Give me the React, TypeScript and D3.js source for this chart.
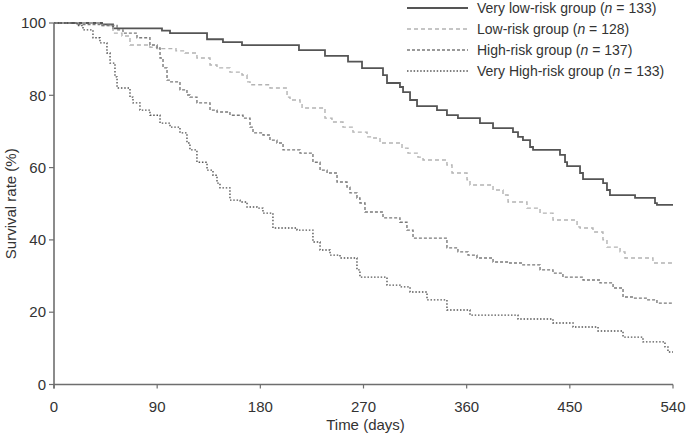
import React from "react";
import * as d3 from "d3";

const xTicks = [0, 90, 180, 270, 360, 450, 540];
const yTicks = [0, 20, 40, 60, 80, 100];

const veryLowDays = [0, 41.9, 51.5, 94.2, 101.2, 133.5, 147.4, 164.0, 213.7, 236.4, 256.5, 268.7, 287.0, 290.5, 301.8, 304.5, 310.6, 316.7, 334.1, 342.8, 352.4, 371.6, 383.0, 400.4, 404.8, 409.1, 415.3, 417.9, 441.4, 445.8, 447.6, 458.9, 461.5, 479.0, 482.4, 485.0, 506.9, 524.3, 526.0, 540];
const veryLowSurv = [100, 99.6, 98.5, 97.9, 97.2, 95.5, 94.7, 93.9, 92.5, 90.9, 89.3, 87.5, 85.6, 83.4, 82.3, 80.9, 78.7, 77.0, 75.9, 74.5, 73.7, 72.3, 70.9, 69.8, 68.5, 67.6, 65.7, 64.9, 63.5, 61.5, 60.4, 58.5, 56.8, 55.7, 53.8, 52.4, 51.6, 50.2, 49.7, 49.7];

const lowDays = [0, 41.9, 51.5, 59.3, 66.3, 83.7, 89.9, 106.4, 114.3, 124.7, 136.1, 142.2, 153.5, 164.0, 168.4, 171.0, 188.4, 203.3, 205.9, 214.6, 216.4, 236.4, 242.5, 252.1, 260.8, 273.1, 277.4, 284.4, 303.6, 308.8, 317.5, 321.9, 342.8, 347.2, 360.3, 362.9, 383.0, 391.7, 396.1, 412.6, 424.0, 435.3, 456.3, 458.9, 470.2, 478.9, 482.4, 493.8, 498.1, 522.5, 539.1, 540];
const lowSurv = [100, 99.3, 97.2, 96.4, 93.9, 93.3, 92.9, 92.3, 91.7, 90.3, 88.4, 87.6, 86.4, 85.6, 83.7, 82.9, 82.0, 79.5, 78.7, 78.1, 76.5, 73.7, 72.6, 71.2, 69.8, 68.5, 68.2, 66.8, 65.4, 64.0, 62.9, 62.1, 60.7, 58.5, 56.6, 55.2, 53.8, 52.4, 50.5, 48.8, 47.4, 45.5, 43.6, 43.3, 42.2, 40.0, 38.0, 36.7, 35.0, 33.6, 33.1, 33.1];

const highDays = [0, 20.1, 40.1, 55.0, 60.2, 72.4, 83.7, 89.9, 92.5, 95.1, 98.6, 101.2, 109.9, 116.0, 118.6, 124.7, 136.1, 142.2, 153.5, 164.9, 171.0, 173.6, 182.3, 188.4, 194.5, 199.8, 214.6, 225.9, 232.1, 238.2, 246.9, 255.6, 258.2, 264.3, 266.9, 271.3, 287.0, 301.8, 307.9, 313.2, 342.8, 352.4, 361.2, 369.0, 383.0, 396.1, 408.3, 424.0, 435.3, 444.0, 461.5, 476.3, 487.7, 496.4, 505.1, 517.3, 526.0, 540];
const highSurv = [100, 99.6, 99.3, 98.1, 97.2, 95.9, 93.9, 93.1, 90.3, 87.6, 84.2, 83.7, 81.5, 80.1, 79.5, 77.9, 75.9, 75.4, 74.5, 73.7, 71.2, 69.6, 69.0, 67.6, 66.8, 64.9, 64.0, 61.5, 59.3, 58.5, 56.0, 54.6, 53.0, 51.6, 50.2, 47.7, 46.1, 44.9, 42.7, 40.5, 37.8, 36.7, 35.8, 35.0, 33.9, 33.6, 33.1, 31.7, 30.8, 29.7, 28.9, 28.1, 26.7, 24.2, 23.9, 23.4, 22.5, 22.5];

const veryHighDays = [0, 20.1, 25.3, 34.0, 40.1, 46.2, 48.9, 53.2, 55.0, 66.3, 68.9, 75.0, 83.7, 92.5, 101.2, 109.9, 116.0, 118.6, 124.7, 133.5, 138.7, 142.2, 144.8, 153.5, 162.3, 168.4, 177.1, 182.3, 191.0, 212.0, 225.9, 232.1, 240.8, 249.5, 264.3, 266.9, 290.5, 301.8, 310.6, 325.4, 342.8, 362.9, 404.8, 435.3, 452.8, 474.6, 496.4, 513.8, 533.0, 535.6, 540];
const veryHighSurv = [100, 99.3, 98.1, 95.9, 94.5, 91.7, 88.9, 85.1, 82.0, 79.5, 77.9, 75.9, 74.5, 72.3, 71.2, 69.6, 66.8, 64.9, 61.5, 59.3, 57.9, 55.7, 54.4, 51.0, 50.5, 49.1, 48.8, 47.4, 43.3, 42.7, 39.4, 37.2, 35.8, 35.0, 31.7, 29.7, 27.5, 27.0, 25.6, 23.4, 20.6, 19.2, 18.1, 17.0, 15.9, 14.8, 13.1, 11.8, 10.4, 9.0, 9.0];

const seriesNames = ["Very low-risk group", "Low-risk group", "High-risk group", "Very High-risk group"];
const seriesN = [133, 128, 137, 133];

const series = [
  { days: veryLowDays, surv: veryLowSurv, color: "#555555", width: 1.8, dash: "none" },
  { days: lowDays, surv: lowSurv, color: "#b3b3b3", width: 1.4, dash: "4,3" },
  { days: highDays, surv: highSurv, color: "#7a7a7a", width: 1.4, dash: "3,2" },
  { days: veryHighDays, surv: veryHighSurv, color: "#555555", width: 1.4, dash: "1.5,1.8" },
];

const W = 686;
const H = 435;
const left = 54;
const right = 673;
const top = 23;
const bottom = 384.5;
const font = "'Liberation Sans', Arial, Helvetica, sans-serif";
const axisColor = "#6e6e6e";

export default function App() {
  const x = d3.scaleLinear().domain([0, 540]).range([left, right]);
  const y = d3.scaleLinear().domain([0, 100]).range([bottom, top]);
  const line = d3
    .line<[number, number]>()
    .x((d) => x(d[0]))
    .y((d) => y(d[1]))
    .curve(d3.curveStepAfter);

  return (
    <svg
      width={W}
      height={H}
      style={{ position: "absolute", left: 0, top: 0, background: "#fff" }}
      fontFamily={font}
    >
      <rect x={0} y={0} width={W} height={H} fill="#fff" />
      {series.map((s, i) => {
        const pts = s.days.map((d, j) => [d, s.surv[j]] as [number, number]);
        return (
          <path
            key={i}
            d={line(pts) || ""}
            fill="none"
            stroke={s.color}
            strokeWidth={s.width}
            strokeDasharray={s.dash}
          />
        );
      })}
      {/* axes */}
      <line x1={left} x2={left} y1={top} y2={bottom + 4} stroke={axisColor} strokeWidth={1.6} />
      <line x1={left} x2={right} y1={bottom} y2={bottom} stroke={axisColor} strokeWidth={1.6} />
      {yTicks.map((t) => (
        <g key={"y" + t}>
          <line x1={left - 5} x2={left} y1={y(t)} y2={y(t)} stroke={axisColor} strokeWidth={1.2} />
          <text x={left - 8} y={y(t)} dy="0.35em" textAnchor="end" fontSize={15} fill="#333">
            {t}
          </text>
        </g>
      ))}
      {xTicks.map((t) => (
        <g key={"x" + t}>
          <line x1={x(t)} x2={x(t)} y1={bottom} y2={bottom + 4} stroke={axisColor} strokeWidth={1.2} />
          <text x={x(t)} y={411.5} textAnchor="middle" fontSize={15} fill="#333">
            {t}
          </text>
        </g>
      ))}
      <text x={(left + right) / 2 + 2} y={429.5} textAnchor="middle" fontSize={15} fill="#333">
        Time (days)
      </text>
      <text
        transform={`translate(16, ${(top + bottom) / 2}) rotate(-90)`}
        textAnchor="middle"
        fontSize={15}
        fill="#333"
      >
        Survival rate (%)
      </text>
      {/* legend */}
      {series.map((s, i) => {
        const ly = 8 + i * 21;
        return (
          <g key={"l" + i}>
            <line
              x1={407}
              x2={468}
              y1={ly}
              y2={ly}
              stroke={s.color}
              strokeWidth={s.width}
              strokeDasharray={s.dash}
            />
            <text x={477} y={ly} dy="0.35em" fontSize={14} fill="#333">
              {seriesNames[i]} (<tspan fontStyle="italic">n</tspan> = {seriesN[i]})
            </text>
          </g>
        );
      })}
    </svg>
  );
}
